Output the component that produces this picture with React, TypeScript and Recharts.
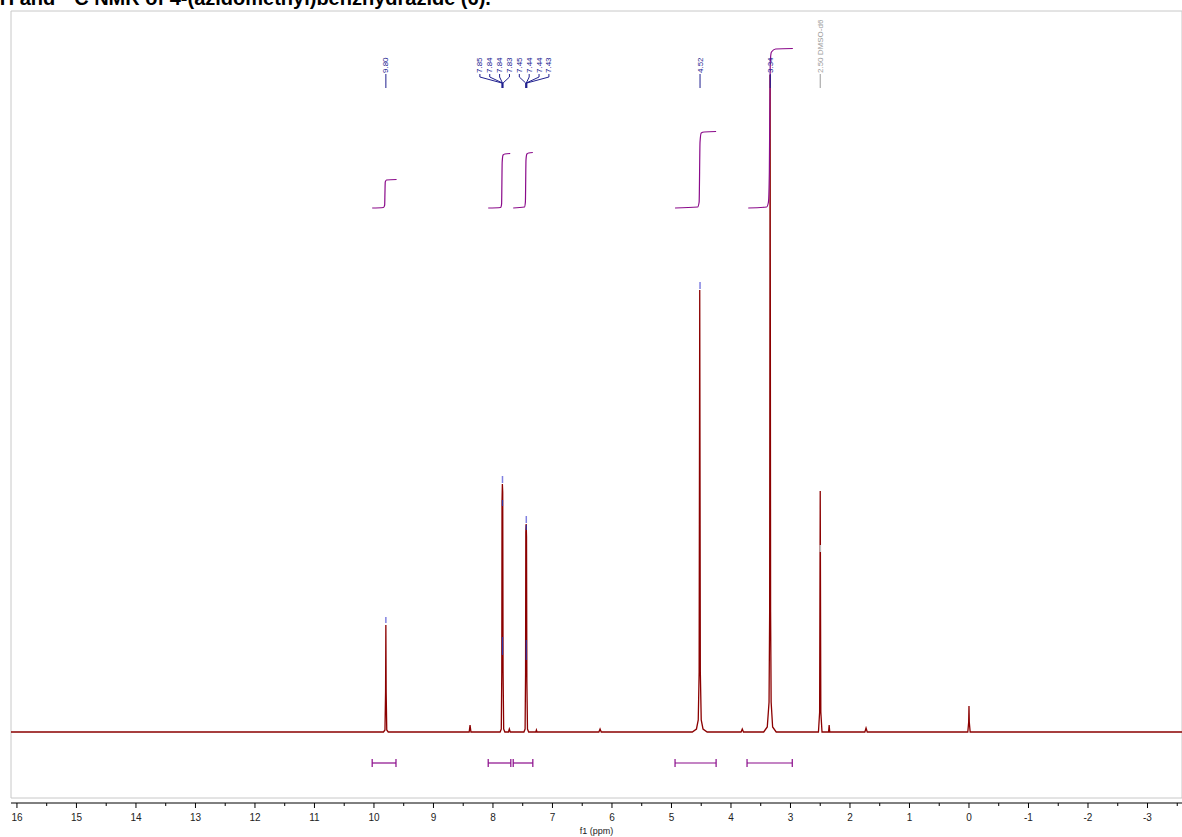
import React from 'react';
import { ComposedChart, Line, XAxis, YAxis, ReferenceLine, ReferenceArea, Scatter } from 'recharts';

// ---------- data ----------
const majorTicks = [16, 15, 14, 13, 12, 11, 10, 9, 8, 7, 6, 5, 4, 3, 2, 1, 0, -1, -2, -3];
const minorTicks = [15.5, 14.5, 13.5, 12.5, 11.5, 10.5, 9.5, 8.5, 7.5, 6.5, 5.5, 4.5, 3.5, 2.5, 1.5, 0.5, -0.5, -1.5, -2.5, -3.5];

// spectrum: [ppm, intensity]
const spectrum: [number, number][] = [
  [16.1, 0],
  [9.84, 0], [9.815, 2], [9.805, 40], [9.8, 107], [9.795, 40], [9.785, 2], [9.76, 0],
  [8.4, 0], [8.385, 7], [8.37, 0],
  [7.88, 0], [7.86, 3], [7.852, 60], [7.848, 230], [7.842, 248], [7.836, 240], [7.83, 60], [7.82, 3], [7.8, 0],
  [7.74, 0], [7.725, 3], [7.71, 0],
  [7.48, 0], [7.46, 3], [7.452, 60], [7.448, 200], [7.442, 208], [7.436, 195], [7.43, 50], [7.42, 3], [7.4, 0],
  [7.28, 0], [7.27, 2], [7.26, 0],
  [6.22, 0], [6.2, 3], [6.18, 0],
  [4.65, 0], [4.58, 3], [4.55, 12], [4.535, 60], [4.525, 442], [4.515, 60], [4.5, 12], [4.47, 3], [4.4, 0],
  [3.83, 0], [3.81, 3], [3.79, 0],
  [3.45, 0], [3.39, 5], [3.36, 30], [3.35, 120], [3.342, 657], [3.334, 120], [3.325, 30], [3.3, 5], [3.24, 0],
  [2.53, 0], [2.51, 20], [2.5, 241], [2.49, 20], [2.47, 0],
  [2.36, 0], [2.35, 7], [2.34, 0],
  [1.75, 0], [1.73, 4], [1.71, 0],
  [0.02, 0], [0.005, 10], [0.0, 26], [-0.005, 10], [-0.02, 0],
  [-3.58, 0],
];

// integral curves: [ppm, level]
const integral1: [number, number][] = [[10.03, 524], [9.84, 524.5], [9.82, 527], [9.815, 540], [9.81, 550], [9.79, 552], [9.62, 552.5]];
const integral2: [number, number][] = [[8.08, 524], [7.87, 524.5], [7.855, 528], [7.845, 570], [7.83, 577], [7.8, 578], [7.71, 578.5]];
const integral3: [number, number][] = [[7.66, 524], [7.47, 525], [7.455, 530], [7.445, 572], [7.43, 578], [7.4, 579], [7.33, 579.5]];
const integral4: [number, number][] = [[4.94, 524], [4.56, 525], [4.535, 530], [4.52, 590], [4.5, 599], [4.45, 600], [4.25, 600.5]];
const integral5: [number, number][] = [[3.71, 524], [3.4, 525], [3.37, 530], [3.355, 560], [3.34, 670], [3.32, 680], [3.25, 683], [2.96, 683.5]];

// integration ranges [from, to]
const integralRanges: [number, number][] = [[10.03, 9.63], [8.08, 7.7], [7.66, 7.33], [4.94, 4.25], [3.73, 2.97]];

// peak labels (groups)
const labelGroups: string[][] = [
  ['9.80'],
  ['7.85', '7.84', '7.84', '7.83', '7.45', '7.44', '7.44', '7.43'],
  ['4.52'],
  ['3.34'],
];
const solventLabel = { ppm: 2.5, text: '2.50 DMSO-d6' };

// peak pick markers [ppm, low, high]
const peakMarkers: [number, number, number][] = [[9.8, 109, 115], [7.84, 249, 256], [7.44, 209, 216], [4.52, 443, 450]];
const innerMarkers: [number, number, number][] = [[7.84, 77, 95], [7.44, 72, 92], [7.84, 226, 232], [7.44, 202, 207]];
const solventMarker: [number, number, number] = [2.5, 180, 187];

// ---------- layout ----------
const W = 1182;
const H = 837;
const X_MIN = -3.58;
const X_MAX = 16.1;
const Y_MIN = -71;
const Y_MAX = 721;
const M = { top: 11, right: 0, bottom: 0, left: 11 };
const AXIS_H = 34;
const PX_PER_PPM = (W - M.left - M.right) / (X_MAX - X_MIN);
const FONT = '"Liberation Sans", Arial, Helvetica, sans-serif';
const RED = '#8b0000';
const PURPLE = '#8a0a8a';
const NAVY = '#20208f';
const LABEL_Y = 659;
const BRACKET_Y = -31;

const toPts = (arr: [number, number][]) => arr.map(([x, y]) => ({ x, y }));
const spectrumData = toPts(spectrum);
const integrals = [integral1, integral2, integral3, integral4, integral5].map(toPts);
const allTicks = [...majorTicks, ...minorTicks].sort((a, b) => b - a);

const labelData = labelGroups.map((g) => {
  const peaks = g.map((s) => parseFloat(s));
  const mean = peaks.reduce((a, b) => a + b, 0) / peaks.length;
  return { x: mean, y: LABEL_Y, labels: g, peaks };
});
const solventData = [{ x: solventLabel.ppm, y: LABEL_Y, text: solventLabel.text }];

const AxisTick = (props: any) => {
  const { x, y, payload } = props;
  const v = payload.value;
  const major = Number.isInteger(v);
  return (
    <g>
      <line x1={x} x2={x} y1={y} y2={y + (major ? 5 : 3)} stroke="#000" strokeWidth={1} />
      {major && (
        <text x={x} y={y + 18} textAnchor="middle" fontSize={10} fontFamily={FONT} fill="#222">
          {String(v)}
        </text>
      )}
    </g>
  );
};

const LabelShape = (props: any) => {
  const { cx, cy, payload } = props;
  if (cx == null || cy == null) return <g />;
  const { labels, peaks, x } = payload;
  const n = labels.length;
  const spacing = 9.86;
  return (
    <g>
      {labels.map((t: string, i: number) => {
        const lx = n === 1 ? cx : cx + (i - (n - 1) / 2) * spacing;
        const px = cx - (peaks[i] - x) * PX_PER_PPM;
        return (
          <g key={i}>
            <text
              x={lx}
              y={cy}
              transform={`rotate(-90, ${lx}, ${cy})`}
              textAnchor="start"
              dominantBaseline="central"
              fontSize={8}
              fontFamily={FONT}
              fill={NAVY}
            >
              {t}
            </text>
            {n === 1 ? (
              <line x1={lx} x2={lx} y1={cy + 1} y2={cy + 15} stroke={NAVY} strokeWidth={1} />
            ) : (
              <polyline
                points={`${lx},${cy + 1} ${lx},${cy + 4} ${px},${cy + 10} ${px},${cy + 15}`}
                fill="none"
                stroke={NAVY}
                strokeWidth={1}
              />
            )}
          </g>
        );
      })}
    </g>
  );
};

const SolventShape = (props: any) => {
  const { cx, cy, payload } = props;
  if (cx == null || cy == null) return <g />;
  return (
    <g>
      <text
        x={cx}
        y={cy}
        transform={`rotate(-90, ${cx}, ${cy})`}
        textAnchor="start"
        dominantBaseline="central"
        fontSize={8}
        fontFamily={FONT}
        fill="#9a9a9a"
      >
        {payload.text}
      </text>
      <line x1={cx} x2={cx} y1={cy + 1} y2={cy + 15} stroke="#9a9a9a" strokeWidth={1} />
    </g>
  );
};

export default function App() {
  return (
    <div style={{ position: 'absolute', left: 0, top: 0, width: W, height: H, background: '#fff', overflow: 'hidden' }}>
      <svg width={W} height={24} style={{ position: 'absolute', left: 0, top: 0 }}>
        <text x={-7} y={5} fontFamily={FONT} fontWeight="bold" fontSize={20} fill="#000">
          <tspan fontSize={12} dy={-8}>1</tspan>
          <tspan dy={8}>H and </tspan>
          <tspan fontSize={12} dy={-8}>13</tspan>
          <tspan dy={8}>C NMR of 4-(azidomethyl)benzhydrazide (6).</tspan>
        </text>
      </svg>
      <div style={{ position: 'absolute', left: 0, top: 0 }}>
        <ComposedChart width={W} height={H} margin={M}>
          <XAxis
            type="number"
            dataKey="x"
            domain={[X_MIN, X_MAX]}
            reversed
            allowDataOverflow
            ticks={allTicks}
            interval={0}
            tickSize={0}
            tickMargin={0}
            tickLine={false}
            tick={<AxisTick />}
            axisLine={{ stroke: '#000', strokeWidth: 1 }}
            height={AXIS_H}
            label={{ value: 'f1 (ppm)', position: 'insideBottom', offset: 3, fontSize: 9, fontFamily: FONT, fill: '#222' }}
          />
          <YAxis type="number" dataKey="y" domain={[Y_MIN, Y_MAX]} allowDataOverflow hide />
          <ReferenceArea x1={X_MAX} x2={X_MIN} y1={-66} y2={Y_MAX} fill="none" stroke="#c8c8c8" strokeWidth={1} ifOverflow="visible" />
          <Line
            data={spectrumData}
            dataKey="y"
            type="linear"
            stroke={RED}
            strokeWidth={1.3}
            dot={false}
            isAnimationActive={false}
          />
          {integrals.map((d, i) => (
            <Line
              key={'int' + i}
              data={d}
              dataKey="y"
              type="monotone"
              stroke={PURPLE}
              strokeWidth={1.2}
              dot={false}
              isAnimationActive={false}
            />
          ))}
          {integralRanges.map(([a, b], i) => (
            <ReferenceLine key={'br' + i} segment={[{ x: a, y: BRACKET_Y }, { x: b, y: BRACKET_Y }]} stroke={PURPLE} strokeWidth={1.2} ifOverflow="visible" />
          ))}
          {integralRanges.map(([a, b], i) => (
            <ReferenceLine key={'cap1' + i} segment={[{ x: a, y: BRACKET_Y - 4 }, { x: a, y: BRACKET_Y + 4 }]} stroke={PURPLE} strokeWidth={1.2} ifOverflow="visible" />
          ))}
          {integralRanges.map(([a, b], i) => (
            <ReferenceLine key={'cap2' + i} segment={[{ x: b, y: BRACKET_Y - 4 }, { x: b, y: BRACKET_Y + 4 }]} stroke={PURPLE} strokeWidth={1.2} ifOverflow="visible" />
          ))}
          {peakMarkers.map(([p, lo, hi], i) => (
            <ReferenceLine key={'pm' + i} segment={[{ x: p, y: lo }, { x: p, y: hi }]} stroke="#8080e0" strokeWidth={1.5} ifOverflow="visible" />
          ))}
          {innerMarkers.map(([p, lo, hi], i) => (
            <ReferenceLine key={'im' + i} segment={[{ x: p, y: lo }, { x: p, y: hi }]} stroke="#3030a0" strokeWidth={1.2} ifOverflow="visible" />
          ))}
          <ReferenceLine segment={[{ x: solventMarker[0], y: solventMarker[1] }, { x: solventMarker[0], y: solventMarker[2] }]} stroke="#c0c0c0" strokeWidth={1.5} ifOverflow="visible" />
          <Scatter data={labelData} dataKey="y" shape={<LabelShape />} isAnimationActive={false} />
          <Scatter data={solventData} dataKey="y" shape={<SolventShape />} isAnimationActive={false} />
        </ComposedChart>
      </div>
    </div>
  );
}
